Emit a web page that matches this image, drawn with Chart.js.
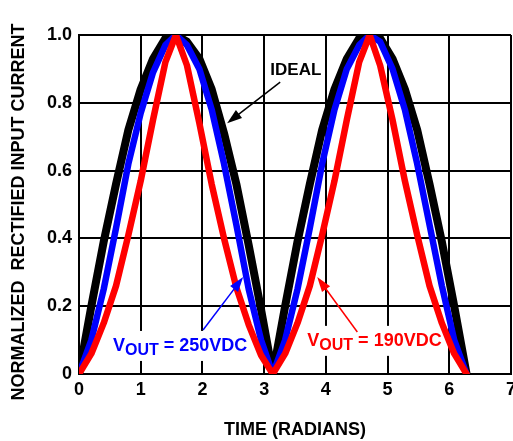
<!DOCTYPE html>
<html>
<head>
<meta charset="utf-8">
<script src="https://cdn.jsdelivr.net/npm/chart.js@4.4.1/dist/chart.umd.min.js"></script>
<style>
  html, body { margin: 0; padding: 0; background: #fff; overflow: hidden; }
  #wrap { width: 513px; height: 441px; overflow: hidden; }
</style>
</head>
<body>
<div id="wrap"><canvas id="chart" width="530" height="441"></canvas></div>
<script>
// values
const timeRad = [0, 0.2, 0.4, 0.6, 0.8, 1.0, 1.2, 1.4, 1.57, 1.75, 1.95, 2.15, 2.35, 2.55, 2.75, 2.95, 3.14,
                 3.34, 3.54, 3.74, 3.94, 4.14, 4.34, 4.54, 4.71, 4.88, 5.08, 5.28, 5.48, 5.68, 5.88, 6.08, 6.28];
const ideal   = [0, 0.20, 0.39, 0.56, 0.72, 0.84, 0.93, 0.99, 1.0, 0.98, 0.93, 0.84, 0.71, 0.56, 0.38, 0.19, 0,
                 0.20, 0.39, 0.56, 0.72, 0.84, 0.93, 0.99, 1.0, 0.99, 0.93, 0.84, 0.72, 0.56, 0.39, 0.20, 0];
const vout250 = [0, 0.10, 0.25, 0.43, 0.62, 0.77, 0.89, 0.97, 1.0, 0.97, 0.90, 0.78, 0.62, 0.44, 0.25, 0.10, 0,
                 0.10, 0.25, 0.43, 0.62, 0.78, 0.90, 0.97, 1.0, 0.98, 0.90, 0.78, 0.62, 0.44, 0.26, 0.10, 0];
const vout190 = [0, 0.06, 0.15, 0.26, 0.41, 0.57, 0.75, 0.92, 1.0, 0.91, 0.74, 0.56, 0.40, 0.255, 0.145, 0.055, 0,
                 0.06, 0.15, 0.26, 0.41, 0.57, 0.75, 0.92, 1.0, 0.91, 0.75, 0.57, 0.41, 0.26, 0.15, 0.06, 0];
const xTickLabels = ["0", "1", "2", "3", "4", "5", "6", "7"];
const yTickLabels = ["0", "0.2", "0.4", "0.6", "0.8", "1.0"];

const FONT = '"Liberation Sans", Arial, sans-serif';

// callouts, placed in data units
const notes = [
  { main: "IDEAL", sub: "", rest: "", color: "#000000", size: 17, at: [3.10, 0.882],
    from: [3.26, 0.861], to: [2.40, 0.740], box: false },
  { main: "V", sub: "OUT", rest: " = 250VDC", color: "#0000ff", size: 18, at: [0.55, 0.068],
    from: [2.01, 0.130], to: [2.66, 0.286], box: true },
  { main: "V", sub: "OUT", rest: " = 190VDC", color: "#ff0000", size: 18, at: [3.70, 0.083],
    from: [4.51, 0.124], to: [3.86, 0.286], box: true }
];

function toPairs(ys) {
  return ys.map((v, i) => ({ x: timeRad[i], y: v }));
}

function measureNote(ctx, n) {
  ctx.font = `bold ${n.size}px ${FONT}`;
  let w1 = ctx.measureText(n.main).width;
  let w3 = ctx.measureText(n.rest).width;
  ctx.font = `bold ${n.size - 2}px ${FONT}`;
  let w2 = ctx.measureText(n.sub).width;
  return { w1, w2, w3 };
}

const notePlugin = {
  id: "notes",
  beforeDatasetsDraw(chart) {
    const { ctx, scales: { x, y } } = chart;
    ctx.save();
    notes.forEach(n => {
      if (!n.box) return;
      let px = x.getPixelForValue(n.at[0]);
      let py = y.getPixelForValue(n.at[1]);
      let m = measureNote(ctx, n);
      ctx.fillStyle = "#ffffff";
      ctx.fillRect(px - 3, py - n.size - 2, m.w1 + m.w2 + m.w3 + 6, n.size + 12);
    });
    ctx.restore();
  },
  afterDatasetsDraw(chart) {
    const { ctx, scales: { x, y } } = chart;
    ctx.save();
    notes.forEach(n => {
      let px = x.getPixelForValue(n.at[0]);
      let py = y.getPixelForValue(n.at[1]);
      let m = measureNote(ctx, n);
      ctx.fillStyle = n.color;
      ctx.textBaseline = "alphabetic";
      ctx.textAlign = "left";
      ctx.font = `bold ${n.size}px ${FONT}`;
      ctx.fillText(n.main, px, py);
      if (n.sub) {
        ctx.font = `bold ${n.size - 2}px ${FONT}`;
        ctx.fillText(n.sub, px + m.w1, py + 4);
        ctx.font = `bold ${n.size}px ${FONT}`;
        ctx.fillText(n.rest, px + m.w1 + m.w2, py);
      }

      // arrow
      let x1 = x.getPixelForValue(n.from[0]), y1 = y.getPixelForValue(n.from[1]);
      let x2 = x.getPixelForValue(n.to[0]), y2 = y.getPixelForValue(n.to[1]);
      let ang = Math.atan2(y2 - y1, x2 - x1);
      let len = 15, half = 5;
      ctx.strokeStyle = n.color;
      ctx.lineWidth = 1.5;
      ctx.beginPath();
      ctx.moveTo(x1, y1);
      ctx.lineTo(x2 - Math.cos(ang) * len * 0.8, y2 - Math.sin(ang) * len * 0.8);
      ctx.stroke();
      ctx.beginPath();
      ctx.moveTo(x2, y2);
      ctx.lineTo(x2 - Math.cos(ang) * len - Math.sin(ang) * half, y2 - Math.sin(ang) * len + Math.cos(ang) * half);
      ctx.lineTo(x2 - Math.cos(ang) * len + Math.sin(ang) * half, y2 - Math.sin(ang) * len - Math.cos(ang) * half);
      ctx.closePath();
      ctx.fill();
    });
    ctx.restore();
  }
};

new Chart(document.getElementById("chart").getContext("2d"), {
  type: "line",
  data: {
    datasets: [
      { label: "VOUT = 190VDC", data: toPairs(vout190), borderColor: "#ff0000", borderWidth: 6.5 },
      { label: "VOUT = 250VDC", data: toPairs(vout250), borderColor: "#0000ff", borderWidth: 6.5 },
      { label: "IDEAL", data: toPairs(ideal), borderColor: "#000000", borderWidth: 8 }
    ]
  },
  options: {
    responsive: false,
    animation: false,
    devicePixelRatio: 1,
    layout: { padding: { left: 0, top: 35, right: 19, bottom: 0 } },
    elements: {
      point: { radius: 0 },
      line: { tension: 0, borderJoinStyle: "round", borderCapStyle: "round" }
    },
    plugins: {
      legend: { display: false },
      tooltip: { enabled: false }
    },
    scales: {
      x: {
        type: "linear",
        min: 0,
        max: 7,
        border: { color: "#000", width: 2 },
        grid: { color: "#000", lineWidth: 2, drawTicks: false },
        ticks: {
          stepSize: 1,
          padding: 5,
          color: "#000",
          font: { family: FONT, size: 18, weight: "bold" },
          maxRotation: 0,
          callback: (v, i) => xTickLabels[i]
        },
        title: {
          display: true,
          text: "TIME (RADIANS)",
          color: "#000",
          font: { family: FONT, size: 18, weight: "bold" },
          padding: { top: 0, bottom: 0 }
        },
        afterFit: s => { s.height = 67; }
      },
      y: {
        min: 0,
        max: 1,
        border: { color: "#000", width: 2 },
        grid: { color: "#000", lineWidth: 2, drawTicks: false },
        ticks: {
          stepSize: 0.2,
          padding: 7,
          color: "#000",
          font: { family: FONT, size: 18, weight: "bold" },
          callback: (v, i) => yTickLabels[i]
        },
        title: {
          display: true,
          text: "NORMALIZED  RECTIFIED INPUT CURRENT   ",
          color: "#000",
          font: { family: FONT, size: 18, weight: "bold" },
          padding: { top: 8, bottom: 0 }
        },
        afterFit: s => { s.width = 79; }
      }
    }
  },
  plugins: [notePlugin]
});
</script>
</body>
</html>
